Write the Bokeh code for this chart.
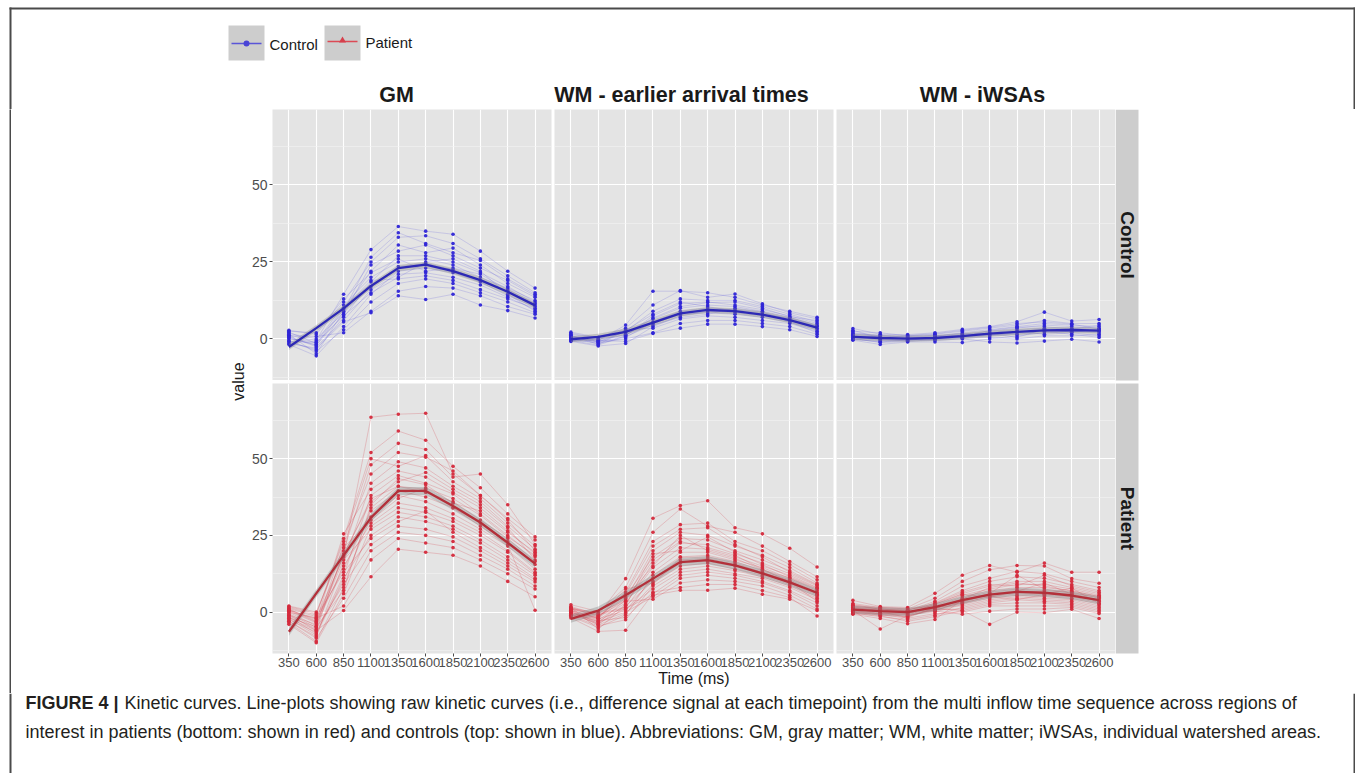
import math
from bokeh.plotting import figure
from bokeh.layouts import row, column
from bokeh.models import Range1d, FixedTicker
from bokeh.embed import file_html
from bokeh.resources import INLINE
from bokeh.core.properties import value

# ---------------- data ----------------
time_labels = ["350", "600", "850", "1100", "1350", "1600", "1850", "2100", "2350", "2600"]
regions = ["GM", "WM - earlier arrival times", "WM - iWSAs"]
groups = ["Control", "Patient"]

gm_control = [
    [1.2, -0.5, 14.5, 29.0, 36.5, 35.0, 34.0, 28.5, 22.0, 16.5],
    [2.8, 1.5, 12.0, 25.0, 33.0, 33.5, 31.0, 26.0, 20.5, 15.0],
    [0.5, -2.0, 9.5, 22.0, 30.5, 28.0, 29.5, 24.0, 18.0, 13.5],
    [-1.0, -3.5, 7.0, 18.5, 27.0, 27.0, 25.0, 21.5, 17.0, 12.0],
    [0.0, -1.0, 11.0, 20.0, 25.0, 26.0, 24.0, 20.0, 16.5, 12.5],
    [1.8, 0.0, 8.5, 17.0, 23.5, 24.5, 22.5, 19.0, 15.5, 11.0],
    [-1.8, -5.5, 4.0, 14.5, 22.0, 23.0, 21.5, 18.5, 14.0, 10.5],
    [0.8, -2.5, 6.0, 16.0, 21.0, 21.5, 20.0, 17.5, 13.5, 9.5],
    [2.2, -1.5, 10.0, 19.0, 19.5, 20.5, 19.0, 16.0, 13.0, 10.0],
    [-0.5, -4.0, 3.0, 12.0, 18.0, 19.5, 18.0, 15.0, 12.0, 8.5],
    [1.0, 0.8, 2.0, 9.0, 15.5, 17.0, 16.5, 14.0, 10.5, 8.0],
    [-1.5, -3.0, 5.5, 8.5, 14.0, 12.8, 14.5, 11.0, 9.2, 6.8],
    [0.3, -2.0, 8.0, 24.0, 28.5, 30.5, 27.0, 23.0, 19.0, 14.0],
    [2.5, 2.0, 13.0, 21.5, 26.0, 22.0, 23.0, 21.0, 16.0, 11.5],
    [-0.8, -1.2, 7.5, 15.0, 20.0, 25.0, 26.0, 22.0, 14.5, 9.0],
    [1.5, -4.8, 9.0, 26.5, 34.5, 31.0, 28.0, 25.5, 19.5, 14.5],
]
gm_patient = [
    [0.5, -2.0, 18.0, 63.5, 64.5, 64.8, 45.0, 38.0, 30.0, 20.0],
    [1.5, -1.0, 24.0, 52.0, 59.0, 56.0, 47.5, 40.5, 32.0, 24.5],
    [-2.0, -6.0, 20.0, 48.0, 55.0, 53.0, 44.0, 45.0, 35.0, 22.0],
    [0.0, -4.5, 22.0, 45.0, 52.0, 50.5, 46.0, 38.0, 30.5, 23.5],
    [-3.0, -8.0, 16.0, 42.0, 49.0, 47.0, 41.0, 36.0, 28.0, 20.5],
    [1.0, -3.0, 25.5, 40.0, 46.0, 44.0, 39.0, 34.0, 26.5, 19.0],
    [-1.5, -7.0, 12.0, 38.0, 44.5, 42.0, 38.5, 32.0, 25.0, 18.0],
    [-0.5, -5.0, 19.0, 36.0, 42.5, 45.5, 40.0, 35.0, 27.5, 17.0],
    [-3.5, -9.5, 8.0, 34.0, 41.0, 39.0, 36.0, 30.0, 24.0, 16.5],
    [0.8, -2.5, 14.0, 33.0, 39.5, 37.5, 34.0, 29.0, 23.0, 15.5],
    [-2.5, -6.5, 10.0, 31.0, 38.0, 36.0, 32.0, 27.0, 21.5, 14.0],
    [2.0, 0.0, 21.0, 30.0, 37.0, 40.5, 37.0, 31.5, 24.5, 18.5],
    [-1.0, -4.0, 15.0, 29.0, 35.5, 34.0, 30.5, 26.0, 20.0, 13.0],
    [-4.0, -10.0, 6.0, 28.0, 34.0, 32.5, 29.5, 25.0, 19.5, 12.5],
    [0.3, -3.5, 17.0, 27.0, 32.5, 31.0, 28.0, 23.5, 18.0, 12.0],
    [-2.2, -7.5, 11.0, 25.0, 31.0, 29.5, 27.0, 22.5, 17.0, 11.0],
    [1.2, -1.5, 13.0, 24.0, 29.5, 33.0, 26.0, 21.0, 16.0, 10.5],
    [-1.2, -5.5, 9.0, 22.0, 28.0, 27.0, 24.5, 20.0, 15.0, 9.8],
    [-3.0, -8.5, 4.5, 20.0, 26.0, 25.0, 23.0, 18.5, 14.0, 8.5],
    [0.0, -2.0, 2.0, 17.0, 24.0, 22.5, 21.0, 17.0, 12.5, 7.5],
    [-0.8, -6.0, 0.5, 11.5, 20.5, 19.5, 18.5, 15.0, 10.0, 5.0],
    [1.8, -0.5, 23.0, 50.0, 47.5, 51.0, 42.5, 37.0, 29.0, 21.5],
    [-1.8, -4.8, 7.0, 35.0, 43.5, 41.5, 35.5, 33.0, 26.0, 19.5],
    [0.6, -3.2, 18.5, 37.0, 41.0, 40.0, 34.0, 28.0, 22.0, 0.6],
]
wm_control = [
    [1.0, -0.5, 4.5, 15.5, 15.5, 15.0, 13.5, 11.0, 9.0, 7.0],
    [2.2, 0.5, 3.5, 11.0, 15.7, 13.5, 14.6, 11.4, 8.5, 6.5],
    [0.5, -1.0, 2.5, 9.0, 13.0, 12.5, 12.5, 10.5, 8.0, 5.5],
    [-0.5, -2.0, 1.0, 7.5, 11.5, 12.0, 11.0, 9.5, 7.5, 5.0],
    [1.5, 0.0, 2.0, 6.5, 10.0, 11.0, 10.5, 9.0, 7.0, 4.5],
    [0.0, -1.5, 0.5, 5.5, 9.0, 10.0, 9.5, 8.5, 6.5, 4.0],
    [-0.8, -2.3, -1.5, 4.0, 7.5, 9.0, 8.5, 7.5, 6.0, 3.5],
    [0.8, -0.8, 1.5, 5.0, 8.0, 8.5, 8.0, 7.0, 5.5, 3.0],
    [1.8, 0.3, 3.0, 3.5, 6.5, 7.5, 7.0, 6.0, 5.0, 2.5],
    [-0.3, -1.2, 0.0, 2.0, 5.0, 6.0, 6.0, 5.0, 4.0, 1.5],
    [0.3, -0.5, -0.8, 1.8, 3.5, 4.8, 4.8, 4.0, 3.0, 0.8],
    [1.2, -1.8, 2.8, 8.0, 12.0, 10.5, 9.0, 8.0, 6.8, 4.2],
    [-0.6, -0.2, 1.2, 6.8, 10.5, 11.8, 12.0, 10.0, 7.2, 6.0],
    [0.6, -1.0, 0.8, 4.5, 7.0, 8.0, 10.0, 8.8, 5.5, 2.0],
]
wm_patient = [
    [1.0, -1.0, 10.9, 30.6, 34.7, 36.3, 27.5, 25.5, 20.8, 14.7],
    [2.4, 0.2, 8.0, 26.0, 33.6, 28.0, 26.0, 21.5, 16.5, 11.5],
    [0.5, -2.0, 6.5, 23.0, 28.5, 29.0, 23.0, 20.0, 15.5, 10.5],
    [-1.0, -3.5, 4.0, 20.0, 26.0, 25.0, 21.5, 18.5, 14.5, 9.5],
    [1.5, -1.5, 5.0, 18.0, 24.0, 23.5, 20.0, 17.0, 13.5, 9.0],
    [-0.5, -4.0, 2.5, 16.0, 22.5, 22.0, 19.0, 16.0, 12.5, 8.5],
    [0.0, -2.5, 3.0, 14.5, 21.0, 20.5, 18.0, 15.0, 12.0, 8.0],
    [1.2, -0.5, 1.5, 13.0, 19.5, 19.5, 17.0, 14.5, 11.0, 7.0],
    [-1.5, -5.0, -1.0, 12.0, 18.0, 18.5, 16.5, 13.5, 10.5, 6.5],
    [0.8, -2.2, 0.5, 11.0, 17.0, 17.5, 15.5, 13.0, 10.0, 6.0],
    [-0.8, -3.0, 2.0, 10.0, 16.0, 16.5, 15.0, 12.5, 9.5, 5.5],
    [0.3, -1.8, 7.5, 9.5, 15.0, 16.0, 14.0, 12.0, 9.0, 5.0],
    [-1.2, -4.5, -2.5, 8.5, 14.0, 15.0, 13.5, 11.5, 8.5, 4.5],
    [1.8, -0.8, 1.0, 7.5, 13.0, 14.0, 12.5, 11.0, 8.0, 4.0],
    [-1.9, -6.3, -5.9, 6.0, 12.0, 13.0, 12.0, 10.0, 7.0, 3.0],
    [0.0, -3.2, 0.0, 5.0, 11.0, 12.0, 11.0, 9.5, 6.5, 2.0],
    [1.0, -1.2, 3.5, 4.2, 9.5, 10.5, 10.0, 8.5, 5.5, 1.0],
    [-0.3, -2.8, -1.8, 6.5, 8.0, 9.0, 9.0, 7.0, 4.8, -1.3],
    [0.6, -3.8, 1.2, 5.5, 7.1, 7.1, 7.8, 5.8, 4.2, 0.5],
    [-1.0, -2.0, 4.5, 15.0, 25.0, 20.0, 17.5, 13.8, 11.2, 7.5],
    [1.5, -5.5, 2.2, 19.0, 20.0, 24.5, 19.5, 15.5, 11.5, 7.8],
    [-0.6, -1.5, 5.8, 21.5, 27.0, 27.5, 22.0, 18.0, 13.0, 8.8],
    [0.2, -4.2, -0.5, 9.0, 17.8, 18.0, 16.0, 12.8, 10.2, 5.8],
    [1.3, -0.3, 3.8, 17.0, 23.0, 21.0, 18.5, 14.0, 9.8, 3.5],
]
iw_control = [
    [3.4, 1.5, 1.4, 2.0, 3.1, 4.0, 5.6, 8.7, 5.8, 6.3],
    [2.5, 2.0, 1.0, 1.5, 2.5, 3.5, 4.5, 6.0, 5.0, 5.0],
    [1.5, 0.8, 0.5, 1.0, 2.0, 3.0, 4.0, 5.0, 4.5, 4.0],
    [0.5, -0.5, -0.5, 0.5, 1.5, 2.5, 3.5, 4.5, 4.0, 3.5],
    [1.0, 0.0, 0.2, 0.0, 1.0, 2.0, 3.0, 3.5, 3.5, 3.0],
    [-0.4, -1.8, -1.0, -1.0, -1.2, 0.0, 1.0, 2.0, 2.5, 2.0],
    [2.0, 1.2, 0.8, 1.2, 0.5, 1.0, 2.0, 3.0, 3.0, 2.5],
    [0.0, -1.0, -0.3, -0.5, 0.0, -1.0, -1.3, -0.7, -0.1, -1.0],
    [1.2, 0.5, 0.0, 0.8, 1.8, 1.5, 2.5, 1.5, 2.0, 1.0],
    [0.8, -0.2, 0.3, 0.3, 0.8, 1.2, 1.5, 2.5, 1.5, 0.5],
    [1.8, 1.0, 0.6, 0.0, 0.2, 0.5, 0.0, 1.0, 1.0, 1.5],
    [0.2, -1.2, -0.8, -0.2, 0.5, 2.8, 3.8, 4.0, 3.2, 4.5],
    [2.8, 0.3, 1.1, 1.7, 2.8, 3.8, 5.0, 5.5, 4.8, 3.2],
    [-0.2, -0.8, -0.5, 0.6, 1.2, 1.8, 0.5, 3.2, 2.2, 2.8],
]
iw_patient = [
    [3.8, 1.8, 1.5, 6.1, 12.0, 15.2, 13.0, 16.0, 13.0, 13.0],
    [2.8, 1.5, 1.0, 4.5, 10.0, 13.8, 15.2, 15.0, 10.9, 9.4],
    [2.0, 1.0, 0.5, 3.5, 8.5, 11.0, 13.3, 12.5, 10.0, 8.0],
    [1.5, 0.5, 0.0, 3.0, 7.0, 10.0, 11.5, 11.0, 9.0, 7.0],
    [1.0, 0.0, -0.5, 2.5, 6.0, 8.5, 10.0, 10.0, 8.0, 6.0],
    [0.5, -0.5, -1.0, 2.0, 5.5, 7.5, 9.0, 9.0, 7.5, 5.5],
    [0.0, -1.0, -1.5, 1.5, 5.0, 7.0, 8.0, 8.0, 7.0, 5.0],
    [1.2, 0.8, 0.3, 1.0, 4.5, 6.5, 7.5, 7.0, 6.5, 4.5],
    [-0.7, -2.1, -3.8, -2.4, 4.0, 6.0, 7.0, 6.5, 6.0, 4.0],
    [0.8, 0.2, -0.2, 0.5, 3.5, 5.5, 6.5, 6.0, 5.5, 3.5],
    [1.8, 1.2, 0.8, 2.2, 3.0, 5.0, 6.0, 5.5, 5.0, 3.0],
    [0.3, -0.3, -0.8, 0.0, 2.5, 4.5, 5.5, 5.0, 4.5, 2.5],
    [2.2, 1.5, 1.2, 1.8, 2.0, 4.0, 5.0, 4.5, 4.0, 2.0],
    [-0.3, -1.5, -2.5, -1.0, 1.5, 3.5, 4.5, 4.0, 3.5, 1.5],
    [0.6, -5.5, -1.2, 0.8, 1.0, 3.0, 4.0, 3.5, 3.0, 1.0],
    [1.4, 0.6, 0.2, 1.2, 0.5, 2.5, 3.0, 3.0, 2.5, 0.5],
    [0.0, -0.8, -2.0, -0.5, 0.0, 2.0, 2.0, 2.0, 2.0, 0.0],
    [1.0, 0.4, -0.3, 0.3, -0.7, 0.3, 1.0, 1.0, 1.5, -0.5],
    [-0.5, -1.2, -3.0, -1.5, 0.5, -4.0, 0.0, -0.2, 0.9, -2.1],
    [2.5, 0.9, 0.6, 2.8, 6.5, 9.0, 8.5, 12.0, 8.5, 6.5],
    [0.2, -0.6, -1.4, 1.0, 4.2, 8.0, 9.5, 8.5, 6.8, 5.2],
    [1.6, 1.0, 0.4, 0.6, 3.2, 6.0, 12.0, 7.5, 6.2, 4.8],
    [-0.2, -0.4, -0.6, 2.6, 5.8, 4.8, 6.8, 9.5, 5.8, 3.8],
    [0.9, 0.1, -1.8, 1.4, 2.8, 5.2, 4.0, 5.8, 7.8, 2.8],
]

# smoothed trend lines
gm_control_fit = [-2.6, 3.5, 9.9, 17.2, 23.0, 24.1, 22.0, 19.1, 15.3, 10.9]
gm_patient_fit = [-6.4, 6.1, 18.5, 30.8, 39.5, 39.5, 34.6, 29.2, 22.6, 15.8]
wm_control_fit = [-0.1, 0.65, 2.3, 5.3, 8.3, 9.4, 9.0, 7.9, 6.1, 3.7]
wm_patient_fit = [-2.2, 0.5, 5.5, 10.9, 16.3, 16.9, 15.2, 12.6, 9.7, 6.3]
iw_control_fit = [0.65, 0.3, 0.1, 0.3, 0.9, 1.7, 2.3, 2.8, 2.9, 2.7]
iw_patient_fit = [0.8, 0.3, 0.0, 1.6, 3.9, 5.7, 6.6, 6.3, 5.4, 3.9]

y_ticks = [0, 25, 50]
y_minor = [-12.5, 12.5, 37.5, 62.5]

caption_bold = "FIGURE 4 |"
caption_1 = ("Kinetic curves. Line-plots showing raw kinetic curves (i.e., difference signal at each timepoint) "
             "from the multi inflow time sequence across regions of")
caption_2 = ("interest in patients (bottom: shown in red) and controls (top: shown in blue). Abbreviations: GM, "
             "gray matter; WM, white matter; iWSAs, individual watershed areas.")

# ---------------- style ----------------
FONT = "Liberation Sans"
PANEL_BG = "#e4e4e4"
STRIP_BG = "#cdcdcd"
FRAME = "#4a4a4a"
COLORS = {
    "Control": dict(pt="#2f25d6", ln="#4d47dc", fit="#2d29b5", la=0.33),
    "Patient": dict(pt="#d42a3c", ln="#d8404d", fit="#b3303a", la=0.42),
}
FW = 279
XR = (0.4, 10.6)
YR = (-13.5, 74.5)


def panel(subjects, fit, group, fh, left_axis=False, bottom_axis=False, xlabel=None,
          mb_left=0, mb_right=0, mb_top=0, mb_bottom=0):
    c = COLORS[group]
    p = figure(frame_width=FW, frame_height=fh, x_range=Range1d(*XR), y_range=Range1d(*YR),
               x_axis_location="below" if bottom_axis else None,
               y_axis_location="left" if left_axis else None,
               output_backend="svg", toolbar_location=None,
               min_border_left=mb_left, min_border_right=mb_right,
               min_border_top=mb_top, min_border_bottom=mb_bottom)
    p.background_fill_color = PANEL_BG
    p.border_fill_color = "white"
    p.outline_line_color = None
    xs = list(range(1, len(time_labels) + 1))
    p.xgrid.ticker = FixedTicker(ticks=xs)
    p.ygrid.ticker = FixedTicker(ticks=y_ticks, minor_ticks=y_minor)
    p.xgrid.grid_line_color = "white"
    p.ygrid.grid_line_color = "white"
    p.xgrid.grid_line_width = 1.1
    p.ygrid.grid_line_width = 1.1
    p.ygrid.minor_grid_line_color = "#f3f3f3"
    p.ygrid.minor_grid_line_width = 0.6

    p.multi_line(xs=[xs] * len(subjects), ys=subjects, line_color=c["ln"],
                 line_alpha=c["la"], line_width=0.6)
    px = [x for s in subjects for x in xs]
    py = [v for s in subjects for v in s]
    p.scatter(px, py, size=3.6, fill_color=c["pt"], line_color=None, fill_alpha=0.95)
    band = 1.3 if group == "Patient" else 1.0
    p.varea(x=xs, y1=[f - band for f in fit], y2=[f + band for f in fit],
            fill_color="#808080", fill_alpha=0.35)
    p.line(xs, fit, line_color=c["fit"], line_width=2.3)

    if left_axis:
        ax = p.yaxis[0]
        ax.ticker = FixedTicker(ticks=y_ticks)
        ax.major_label_text_font = FONT
        ax.major_label_text_font_size = "14px"
        ax.major_label_text_color = "#4d4d4d"
        ax.major_tick_out = 3
        ax.major_tick_in = 0
        ax.minor_tick_out = 0
        ax.minor_tick_in = 0
        ax.axis_line_color = None
        ax.major_tick_line_color = "#4d4d4d"
        ax.major_label_standoff = 2
    if bottom_axis:
        ax = p.xaxis[0]
        ax.ticker = FixedTicker(ticks=xs)
        ax.major_label_overrides = {i + 1: lab for i, lab in enumerate(time_labels)}
        ax.major_label_text_font = FONT
        ax.major_label_text_font_size = "13px"
        ax.major_label_text_color = "#4d4d4d"
        ax.major_tick_out = 3
        ax.major_tick_in = 0
        ax.minor_tick_out = 0
        ax.minor_tick_in = 0
        ax.axis_line_color = None
        ax.major_tick_line_color = "#4d4d4d"
        ax.major_label_standoff = 1
        if xlabel:
            ax.axis_label = xlabel
            ax.axis_label_text_font = FONT
            ax.axis_label_text_font_size = "16px"
            ax.axis_label_text_font_style = "normal"
            ax.axis_label_text_color = "#1a1a1a"
            ax.axis_label_standoff = 0
    return p


def canvas(w, h, fill="white"):
    p = figure(frame_width=w, frame_height=h, x_range=Range1d(0, w), y_range=Range1d(h, 0),
               x_axis_location=None, y_axis_location=None,
               min_border_left=0, min_border_right=0, min_border_top=0, min_border_bottom=0,
               output_backend="svg", toolbar_location=None)
    p.grid.visible = False
    p.outline_line_color = None
    p.background_fill_color = fill
    p.border_fill_color = fill
    return p


def vbar_frame(p, xs, y0, y1):
    # 2 px filled strips used as the figure's outer frame lines
    p.quad(left=[x - 1.0 for x in xs], right=[x + 1.0 for x in xs],
           top=[y0] * len(xs), bottom=[y1] * len(xs), fill_color=FRAME, line_color=None)


TOP_H, BOT_H, GAP, BOT_AX = 271, 270, 3, 40
MID_H = TOP_H + GAP + BOT_H + BOT_AX
HEAD_H = 109
MARGIN_L, BAR_W = 9, 2
LEFT_W, GM_LEFT = 248 - MARGIN_L - BAR_W, 22
FOOT_H = 773 - HEAD_H - MID_H
RIGHT_W = 1355 - (MARGIN_L + BAR_W + LEFT_W) - (GM_LEFT + FW + 3) - (FW + 3) - FW - BAR_W

data = {
    ("GM", "Control"): (gm_control, gm_control_fit),
    ("GM", "Patient"): (gm_patient, gm_patient_fit),
    ("WM - earlier arrival times", "Control"): (wm_control, wm_control_fit),
    ("WM - earlier arrival times", "Patient"): (wm_patient, wm_patient_fit),
    ("WM - iWSAs", "Control"): (iw_control, iw_control_fit),
    ("WM - iWSAs", "Patient"): (iw_patient, iw_patient_fit),
}

rows = []
for gi, g in enumerate(groups):
    figs = []
    for ri, r in enumerate(regions):
        subj, fit = data[(r, g)]
        bottom = gi == 1
        figs.append(panel(subj, fit, g,
                          fh=TOP_H if gi == 0 else BOT_H,
                          left_axis=(ri == 0), bottom_axis=bottom,
                          xlabel="Time (ms)" if (bottom and ri == 1) else None,
                          mb_left=GM_LEFT if ri == 0 else 0,
                          mb_right=3 if ri < 2 else 0,
                          mb_top=GAP if gi == 1 else 0,
                          mb_bottom=BOT_AX if gi == 1 else 0))
    rows.append(row(*figs, spacing=0))
grid = column(*rows, spacing=0)

# header: frame, legend, column strips
head = canvas(1355, HEAD_H)
head.quad(left=[9], right=[1355], top=[7], bottom=[9], fill_color=FRAME, line_color=None)
vbar_frame(head, [10, 1354], 7, HEAD_H)
head.quad(left=[228, 324], right=[264, 360], top=[25, 25], bottom=[60, 60],
          fill_color=STRIP_BG, line_color=None)
head.line([231, 261], [43, 43], line_color="#5a55d8", line_width=1.6)
head.scatter([246], [43], size=6, marker="circle", fill_color="#4a44d6", line_color=None)
head.line([327, 357], [41, 41], line_color="#dc4a55", line_width=1.6)
head.scatter([342], [40], size=7, marker="triangle", fill_color="#d6404c", line_color=None)
head.text([269, 365], [44, 42], text=groups, text_font=value(FONT), text_font_size="15px",
          text_baseline="middle", text_align="left", text_color="#1a1a1a")
strip_x = [396, 681, 982]
head.text(strip_x, [94, 94, 94], text=regions, text_font=value(FONT), text_font_size="21.5px",
          text_font_style="bold", text_baseline="middle", text_align="center", text_color="#1a1a1a")

# middle-left: white margin, frame bar, y title
margin_l = canvas(MARGIN_L, MID_H)
bar_l = canvas(BAR_W, MID_H, fill=FRAME)
left = canvas(LEFT_W, MID_H)
left.text([238 - MARGIN_L - BAR_W], [272], text=["value"], angle=math.pi / 2, text_font=value(FONT),
          text_font_size="16px", text_baseline="middle", text_align="center", text_color="#1a1a1a")

# middle-right: row strips, frame bar
right = canvas(RIGHT_W, MID_H)
right.quad(left=[0, 0], right=[23, 23], top=[0, TOP_H + GAP], bottom=[TOP_H, TOP_H + GAP + BOT_H],
           fill_color=STRIP_BG, line_color=None)
right.text([11.5, 11.5], [TOP_H / 2, TOP_H + GAP + BOT_H / 2], text=groups, angle=-math.pi / 2,
           text_font=value(FONT), text_font_size="19px", text_font_style="bold",
           text_baseline="middle", text_align="center", text_color="#1a1a1a")
bar_r = canvas(BAR_W, MID_H, fill=FRAME)

# footer: caption
foot = canvas(1355, FOOT_H)
vbar_frame(foot, [10, 1354], 0, FOOT_H)
foot.text([25], [9], text=[caption_bold], text_font=value(FONT), text_font_size="18px",
          text_font_style="bold", text_baseline="middle", text_color="#231f20")
foot.text([124], [9], text=[caption_1], text_font=value(FONT), text_font_size="18px",
          text_baseline="middle", text_color="#231f20")
foot.text([25], [38], text=[caption_2], text_font=value(FONT), text_font_size="18px",
          text_baseline="middle", text_color="#231f20")

middle = row(margin_l, bar_l, left, grid, right, bar_r, spacing=0)
layout = column(head, middle, foot, spacing=0)
open("out.html", "w").write(file_html(layout, INLINE))
